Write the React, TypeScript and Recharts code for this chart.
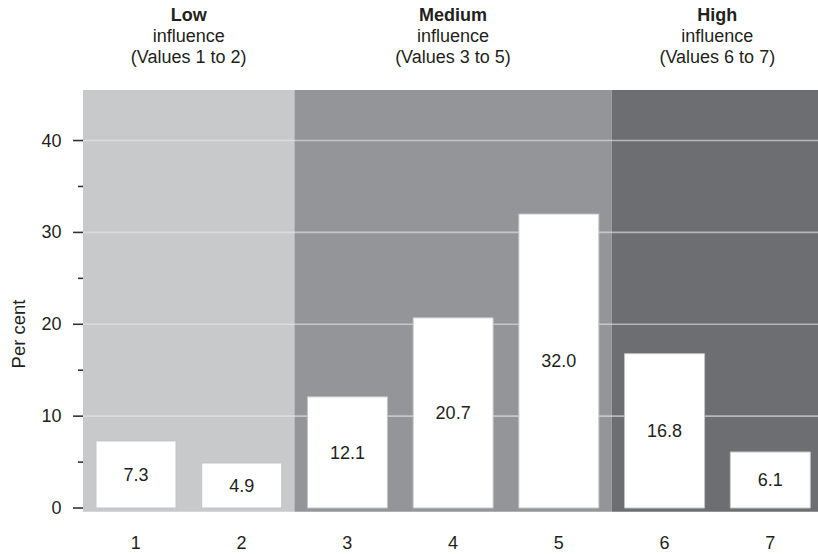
import React from 'react';
import { BarChart, Bar, XAxis, YAxis, ReferenceArea, ReferenceLine, LabelList } from 'recharts';

const categories = ['1', '2', '3', '4', '5', '6', '7'];
const perCent = [7.3, 4.9, 12.1, 20.7, 32.0, 16.8, 6.1];
const yTicks = [0, 5, 10, 15, 20, 25, 30, 35, 40];
const majorTicks = [0, 10, 20, 30, 40];
const gridValues = [10, 20, 30, 40];
const groupNames = ['Low', 'Medium', 'High'];
const groupFrom = ['1', '3', '6'];
const groupTo = ['2', '5', '7'];
const groupColors = ['#c8c9cb', '#939598', '#6d6e71'];

const FONT = '"Liberation Sans", Arial, Helvetica, sans-serif';
const TEXT = '#231f20';

const data = categories.map((c, i) => ({ category: c, value: perCent[i] }));

const YTick = (props: any) => {
  const { x, y, payload } = props;
  const major = majorTicks.includes(payload.value);
  return (
    <g>
      <line x1={x - (major ? 10 : 5)} x2={x} y1={y} y2={y} stroke="#333" strokeWidth={1.6} />
      {major && (
        <text x={x - 21.5} y={y} textAnchor="end" dominantBaseline="central" fontSize={18} fill={TEXT} fontFamily={FONT}>
          {payload.value}
        </text>
      )}
    </g>
  );
};

const makeHeader = (i: number) => (props: any) => {
  const vb = props.viewBox || {};
  const cx = vb.x + vb.width / 2;
  const top = vb.y;
  return (
    <g fontFamily={FONT} fontSize={18} fill={TEXT} textAnchor="middle">
      <text x={cx} y={top - 69} fontWeight="bold">{groupNames[i]}</text>
      <text x={cx} y={top - 48}>influence</text>
      <text x={cx} y={top - 27}>{`(Values ${groupFrom[i]} to ${groupTo[i]})`}</text>
    </g>
  );
};

const YLabel = () => (
  <text
    x={18}
    y={334}
    transform="rotate(-90, 18, 334)"
    textAnchor="middle"
    dominantBaseline="central"
    fontSize={18.5}
    fill={TEXT}
    fontFamily={FONT}
  >
    Per cent
  </text>
);

export default function App() {
  return (
    <div style={{ position: 'absolute', left: 0, top: 0, width: 818, height: 554, overflow: 'hidden', background: '#fff' }}>
      <BarChart
        width={823}
        height={554}
        data={data}
        margin={{ top: 90, right: 0, bottom: 0, left: 0 }}
        barSize={80}
        style={{ fontFamily: FONT }}
      >
        <XAxis
          dataKey="category"
          axisLine={false}
          tickLine={false}
          height={42.3}
          tickMargin={18.8}
          interval={0}
          tick={{ fontSize: 18, fill: TEXT, fontFamily: FONT }}
        />
        <YAxis
          width={83}
          type="number"
          domain={[-0.4, 45.5]}
          allowDataOverflow
          ticks={yTicks}
          interval={0}
          axisLine={false}
          tickLine={false}
          tickSize={0}
          tickMargin={0}
          tick={YTick}
          label={YLabel}
        />
        {groupNames.map((g, i) => (
          <ReferenceArea
            key={g}
            x1={groupFrom[i]}
            x2={groupTo[i]}
            fill={groupColors[i]}
            fillOpacity={1}
            stroke="none"
            zIndex={-200}
            label={makeHeader(i)}
          />
        ))}
        {gridValues.map((v) => (
          <ReferenceLine key={v} y={v} stroke="#e8e8e8" strokeOpacity={0.6} strokeWidth={1.6} zIndex={-150} />
        ))}
        <Bar dataKey="value" fill="#ffffff" stroke="#c4c4c4" strokeWidth={1} isAnimationActive={false}>
          <LabelList
            dataKey="value"
            position="center"
            formatter={(v: any) => Number(v).toFixed(1)}
            style={{ fontSize: 18, fill: TEXT, fontFamily: FONT }}
          />
        </Bar>
      </BarChart>
    </div>
  );
}
